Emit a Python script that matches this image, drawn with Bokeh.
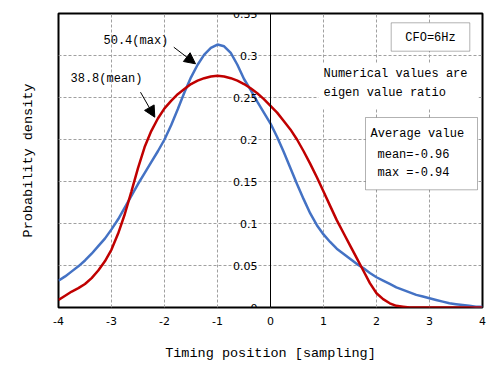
from bokeh.plotting import figure
from bokeh.models import (Range1d, FixedTicker, Span, Label, BoxAnnotation, Arrow,
                          NormalHead, ColumnDataSource)
from bokeh.core.properties import value
from bokeh.embed import file_html
from bokeh.resources import INLINE

# ---- data ----
x_pos = [-4, -3.875, -3.75, -3.625, -3.5, -3.375, -3.25, -3.125, -3, -2.875, -2.75,
         -2.625, -2.5, -2.375, -2.25, -2.125, -2, -1.875, -1.75, -1.625, -1.5, -1.375,
         -1.25, -1.125, -1, -0.875, -0.75, -0.625, -0.5, -0.375, -0.25, -0.125, 0,
         0.125, 0.25, 0.375, 0.5, 0.625, 0.75, 0.875, 1, 1.125, 1.25, 1.375, 1.5,
         1.625, 1.75, 1.875, 2, 2.125, 2.25, 2.375, 2.5, 2.625, 2.75, 2.875, 3,
         3.125, 3.25, 3.375, 3.5, 3.625, 3.75, 3.875, 4]
max_density = [0.032, 0.037, 0.043, 0.049, 0.056, 0.064, 0.073, 0.082, 0.093, 0.105,
               0.119, 0.133, 0.147, 0.160, 0.173, 0.186, 0.200, 0.217, 0.236, 0.256,
               0.274, 0.289, 0.301, 0.309, 0.313, 0.311, 0.303, 0.289, 0.272, 0.259,
               0.245, 0.232, 0.219, 0.203, 0.185, 0.166, 0.147, 0.129, 0.112, 0.098,
               0.087, 0.078, 0.070, 0.064, 0.058, 0.052, 0.047, 0.041, 0.036, 0.032,
               0.028, 0.024, 0.021, 0.018, 0.015, 0.013, 0.011, 0.009, 0.007, 0.005,
               0.004, 0.003, 0.002, 0.001, 0.001]
mean_density = [0.009, 0.014, 0.019, 0.023, 0.028, 0.035, 0.044, 0.055, 0.069, 0.088,
                0.111, 0.138, 0.166, 0.191, 0.210, 0.225, 0.237, 0.246, 0.254, 0.260,
                0.266, 0.270, 0.273, 0.275, 0.276, 0.275, 0.273, 0.270, 0.266, 0.261,
                0.255, 0.248, 0.240, 0.232, 0.222, 0.212, 0.200, 0.186, 0.171, 0.155,
                0.138, 0.121, 0.104, 0.089, 0.074, 0.059, 0.044, 0.029, 0.017, 0.010,
                0.005, 0.002, 0.001, 0.0, 0.0, 0.0, 0.0, 0.0, 0.0, 0.0,
                0.0, 0.0, 0.0, 0.0, 0.0]
x_ticks = [-4, -3, -2, -1, 0, 1, 2, 3, 4]
x_tick_labels = ["-4", "-3", "-2", "-1", "0", "1", "2", "3", "4"]
y_ticks = [0, 0.05, 0.1, 0.15, 0.2, 0.25, 0.3, 0.35]
y_tick_labels = ["0", "0.05", "0.1", "0.15", "0.2", "0.25", "0.3", "0.35"]

MONO = "Liberation Mono"

# pixel -> data helpers for annotation placement
FL, FT, FW, FH = 58, 13, 424, 294
def px2x(px):
    return -4 + (px - FL) * 8.0 / FW
def py2y(py):
    return (FT + FH - py) * 0.35 / FH

p = figure(width=487, height=365, output_backend="svg", toolbar_location=None,
           x_range=Range1d(-4, 4), y_range=Range1d(0, 0.35),
           frame_width=FW, frame_height=FH,
           min_border_left=FL, min_border_top=FT, min_border_right=5, min_border_bottom=58)
p.background_fill_color = "white"
p.border_fill_color = "white"
p.outline_line_color = "black"
p.outline_line_width = 2

# grid
p.xgrid.ticker = FixedTicker(ticks=x_ticks)
p.ygrid.ticker = FixedTicker(ticks=y_ticks)
for g in (p.xgrid, p.ygrid):
    g.grid_line_color = "#a0a0a0"
    g.grid_line_dash = "3 2"
    g.grid_line_width = 1

# x axis
xa = p.xaxis[0]
xa.ticker = FixedTicker(ticks=x_ticks)
xa.major_label_overrides = {t: l for t, l in zip(x_ticks, x_tick_labels)}
xa.axis_line_color = None
xa.major_tick_line_color = None
xa.minor_tick_line_color = None
xa.major_label_standoff = 3
xa.major_label_text_font = "DejaVu Sans"
xa.major_label_text_font_size = "11px"
xa.major_label_text_color = "black"
xa.axis_label = "Timing position [sampling]"
xa.axis_label_text_font = MONO
xa.axis_label_text_font_size = "13.5px"
xa.axis_label_text_font_style = "normal"
xa.axis_label_text_color = "black"
xa.axis_label_standoff = 18

# y axis (label only; ticks drawn at x=0)
ya = p.yaxis[0]
ya.ticker = FixedTicker(ticks=[])
ya.axis_line_color = None
ya.major_tick_line_color = None
ya.minor_tick_line_color = None
ya.axis_label = "Probability density"
ya.axis_label_text_font = MONO
ya.axis_label_text_font_size = "13.5px"
ya.axis_label_text_font_style = "normal"
ya.axis_label_text_color = "black"
ya.axis_label_standoff = 23

# curves
src = ColumnDataSource(dict(x=x_pos, mx=max_density, mn=mean_density))
p.line("x", "mx", source=src, line_color="#4472C4", line_width=2.5)
p.line("x", "mn", source=src, line_color="#C00000", line_width=2.5)

# vertical axis at x=0
p.add_layout(Span(location=0, dimension="height", line_color="black", line_width=1))

# y tick labels next to the x=0 axis
p.text(x=[0] * len(y_ticks), y=y_ticks, text=y_tick_labels, x_offset=-13,
       text_align="right", text_baseline="middle", text_font=value("DejaVu Sans"),
       text_font_size="11px", text_color="black")

# annotation boxes
p.add_layout(BoxAnnotation(left=px2x(390.7), right=px2x(469.3), top=py2y(22.3),
                           bottom=py2y(50.7), fill_color="white", fill_alpha=1,
                           line_color="black", line_width=1))
p.add_layout(BoxAnnotation(left=px2x(318), right=px2x(478), top=py2y(63),
                           bottom=py2y(108), fill_color="white", fill_alpha=1,
                           line_color=None))
p.add_layout(BoxAnnotation(left=px2x(365), right=px2x(477), top=py2y(117),
                           bottom=py2y(189.3), fill_color="white", fill_alpha=1,
                           line_color="black", line_width=1))

def lab(text, px, py, align="left"):
    p.add_layout(Label(x=px2x(px), y=py2y(py), text=text, text_font=MONO,
                       text_font_size="12px", text_color="black",
                       text_align=align, text_baseline="middle"))

lab("CFO=6Hz", 430, 37, "center")
lab("Numerical values are", 323, 73)
lab("eigen value ratio", 323, 92.7)
lab("Average value", 370, 133.3)
lab("mean=-0.96", 377, 154)
lab("max =-0.94", 377, 172.7)
lab("50.4(max)", 103, 40)
lab("38.8(mean)", 70, 78.5)

# arrows
for (sx, sy, ex, ey) in [(173.3, 46.7, 195, 63.3), (140, 91.7, 154.3, 116.7)]:
    p.add_layout(Arrow(end=NormalHead(size=11, fill_color="black", line_color="black"),
                       x_start=px2x(sx), y_start=py2y(sy), x_end=px2x(ex), y_end=py2y(ey),
                       line_color="black", line_width=1))

open("out.html", "w").write(file_html(p, INLINE))
